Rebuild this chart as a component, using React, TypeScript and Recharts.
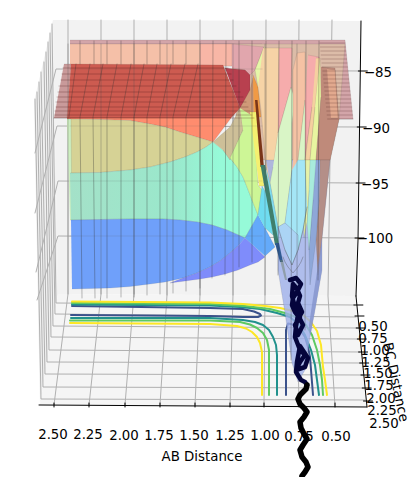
/** App.tsx — LEPS surface seen in 3D, traced in view coordinates */
import React from 'react'
import { ScatterChart, Scatter, XAxis, YAxis } from 'recharts'

type Pt = [number, number]
const W = 419, H = 477

// panes
const paneBack: Pt[] = [[53,20],[361,21],[356,296],[58,294]]
const paneLeft: Pt[] = [[53,20],[58,294],[40,405],[34,102]]
const paneFloor: Pt[] = [[58,294],[356,296],[367,407],[40,405]]

// grid
const gridAB: Pt[][] = [
  [[68,20],[68,294],[54,405]], [[101,20],[101,294],[89,405]], [[134,20],[134,294],[125,405]],
  [[167,20],[167,295],[160,405]], [[200,20],[200,295],[195,405]], [[233,20],[233,295],[230,406]],
  [[266,20],[265,295],[264,406]], [[299,20],[297,296],[299,406]], [[332,20],[328,296],[335,406]],
]
const gridBC: Pt[][] = [
  [[52,24],[56,303],[354,305]], [[50,33],[55,314],[356,317]], [[48,42],[53,326],[358,328]],
  [[46,52],[51,337],[359,339]], [[44,62],[49,350],[360,352]], [[41,72],[47,362],[362,363]],
  [[39,82],[45,374],[363,375]], [[37,92],[43,387],[364,388]], [[35,99],[41,399],[365,400]],
]
const gridZ: Pt[][] = [
  [[35,153],[56,69],[360,71]], [[35,213],[57,126],[359,127]],
  [[36,272],[58,181],[358,183]], [[37,300],[58,236],[357,238]],
]

// floor contours
const yellowBack: Pt[] = [[72,301.5],[210,302.5],[243,304],[265,306],[280,308],[293,311],[303,315],[311,322],[317,331],[321,345],[323,367],[325,380],[327,395]]
const greenBack: Pt[] = [[72,303],[210,304],[245,306],[270,309],[285,313],[298,318],[306,325],[312,335],[317,350],[320,365],[322,380],[323,395]]
const tealBack: Pt[] = [[72,304.5],[210,305.5],[240,307],[260,309],[277,313],[290,317],[299,325],[305,335],[311,350],[315,365],[317,380],[319,395]]
const indigoTongue: Pt[] = [[72,306],[210,308],[243,309],[254,311.5],[260,314],[261,315.5],[258,317],[243,317],[210,316],[71,315]]
const indigoU: Pt[] = [[286,395],[286,330],[288,323.5],[295,325],[300,330],[305,337],[308,347],[310,357],[313,395]]
const tealFront: Pt[] = [[71,318],[210,318],[243,320],[255,322],[263,325],[269,330],[273,337],[276,345],[277,355],[277,395]]
const greenFront: Pt[] = [[70,320.5],[210,320.5],[240,322],[250,324.5],[257,328],[263,333],[267,340],[269,350],[269,395]]
const yellowFront: Pt[] = [[70,323],[210,324],[237,326],[246,328.5],[252,332],[257,337],[260,343],[262,352],[262,395]]

// surface patches, back to front
const surface: [Pt[], string, number?][] = [
  [[[70,40],[345,40],[353,119],[339,119],[330,160],[280,160],[262,44],[70,44]], '#d3a5a9'],
  [[[232,44],[345,44],[339,119],[330,160],[250,160],[232,100]], '#dcbca8'],
  [[[70,44],[232,44],[232,66],[70,66]], '#f5c0a8'],
  [[[200,44],[232,44],[232,66],[200,66]], '#f8b6a6'],
  [[[232,44],[264,47],[255,70],[250,75],[245,70],[232,68]], '#e1a6ad'],
  [[[64,64],[71,64],[67,118],[54,118]], '#c99a9a'],
  [[[71,64],[223,65],[240,108],[231,118],[67,118]], '#cd5b50'],
  [[[225,68],[245,70],[250,75],[250,95],[240,108]], '#b8404f'],
  [[[67,118],[231,118],[213,142],[200,138],[180,132],[165,127],[150,124],[130,120.5],[100,119.5],[67,119]], '#ff8c6e'],
  [[[67,119],[100,119.5],[130,120.5],[150,124],[165,127],[180,132],[200,138],[213,142],[206,147],[197,152],[185,157],[170,162],[150,167],[130,170],[100,172.5],[70,173]], '#d6d295'],
  [[[67,119],[71,119],[72,220],[70,220]], '#cdeec0'],
  [[[70,173],[100,172.5],[130,170],[150,167],[170,162],[185,157],[197,152],[206,147],[213,142],[223,150],[230,158],[237,167],[243,177],[247,187],[252,200],[258,215],[245,238],[236,234],[227,230],[212,225],[197,222],[180,220],[163,219],[130,219],[100,219.5],[71,220]], 'url(#tealBand)'],
  [[[71,220],[100,219.5],[130,219],[163,219],[180,220],[197,222],[212,225],[227,230],[236,234],[245,238],[238,246],[230,253],[220,261],[210,267],[197,273],[183,278],[165,282],[150,284],[130,286.5],[110,288],[72,289]], '#6fa0fa'],
  [[[245,238],[255,247],[265,257],[258,262],[250,265],[238,270],[225,274],[212,277],[200,279],[185,281],[170,283],[183,278],[197,273],[210,267],[220,261],[230,253],[238,246]], '#7f8cfb'],
  [[[245,238],[258,215],[265,228],[275,247],[265,256]], '#64aafa'],
  [[[213,142],[230,127],[240,108],[243,130],[230,160],[223,150]], '#cdbf98'],
  [[[240,108],[253,112],[258,185],[262,190],[258,215],[252,200],[247,187],[243,177],[237,167],[230,158],[243,130]], '#cdf696'],
  [[[240,108],[250,90],[253,78],[258,90],[254,117]], '#cf9a78'],
  [[[253,75],[258,87],[261,117],[254,117]], '#f09a45'],
  [[[250,112],[257,112],[264,186],[259,186]], '#f4f070'],
  [[[258,215],[262,186],[268,196],[273,235],[265,228]], '#6fdcf0'],
  [[[264,47],[255,70],[258,87],[262,93],[265,47]], '#e6f7a8'],
  [[[263,48],[279,48],[278,133],[273,167],[269,187],[266,167],[261,110],[258,87]], '#f6d3a6'],
  [[[279,48],[292,48],[291,87],[278,133]], '#f6acac'],
  // well sheet
  [[[270,183],[278,227],[278,270],[285,313],[292,363],[298,382],[305,370],[310,337],[315,310],[322,270],[322,238],[330,160],[266,160]], '#9eafea', 0.8],
  [[[278,133],[291,87],[295,100],[292,123],[292,170],[285,223],[278,227],[270,183],[273,167]], '#d9f5c6'],
  [[[266,167],[270,183],[278,227],[279,250],[272,210]], '#7fdcf0'],
  [[[293,160],[293,70],[297,53],[305,52],[305,100],[298,160],[296,172],[292,170]], '#f5c2a4'],
  [[[298,160],[305,100],[306,100],[305,160]], '#d9f5c6'],
  [[[308,55],[319,57],[312,107],[307,143],[305,160],[305,100]], '#f6acac'],
  [[[316,58],[320,58],[315,107],[310,160],[305,160],[312,107]], '#f5d0a0'],
  [[[320,58],[321,97],[316,160],[310,160],[315,107]], '#e8f5a0'],
  [[[321,67],[335,68],[339,119],[330,160],[320,160],[316,160],[321,97]], '#bf8a7a'],
  [[[327,69],[335,70],[338,118],[331,118]], '#e2a98e'],
  [[[320,160],[330,160],[322,238],[318,275],[316,240],[319,200]], '#b48f88'],
  [[[316,160],[320,160],[319,200],[316,240],[310,285],[309,250],[313,200]], '#8ea7d8'],
  [[[310,160],[316,160],[313,200],[309,250],[307,222],[309,190]], '#a8ecdc'],
  [[[305,160],[310,160],[309,190],[307,222],[304,238],[303,205]], '#e6f2a8'],
  [[[298,160],[305,160],[307,207],[303,230],[298,250],[298,235],[285,223],[292,170]], '#a4e6f6'],
  [[[278,227],[285,223],[298,235],[298,250],[292,265],[285,250]], '#abd4f5'],
]
// darker bands that carry no outline
const ridge: [Pt[], string, number?][] = [
  [[[322,238],[322,270],[315,310],[310,337],[309,325],[313,298],[318,265]], '#7f8fc8', 0.7],
  [[[255,100],[257.5,100],[264,167],[260.5,167]], '#7a3518'],
  [[[260.5,165],[265,165],[279,245],[275,245]], '#3f7f6c'],
  [[[275,243],[279,243],[283,262],[280,262]], '#2f5a92'],
  [[[280,260],[283,260],[287,280],[285,280]], '#6f7f6a', 0.5],
]

// mesh lines laid over the surface
const meshFront: Pt[][] = [
  [[76,64],[69,117]], [[90,64],[80,117],[82,298]], [[103,64],[93,117],[95,298]], [[117,64],[107,117],[107,298]],
  [[131,64],[121,117],[121,297]], [[144,64],[134,117],[134,297]], [[157,64],[147,117],[147,295]],
  [[171,64],[160,117],[160,294]], [[185,64],[173,117],[173,293]], [[198,64],[186,117],[186,291]],
]
const meshBack: Pt[][] = [
  [[80,41],[80,64]], [[94,41],[94,64]], [[107,41],[107,64]], [[121,41],[121,64]], [[134,41],[134,64]],
  [[147,41],[147,64]], [[160,41],[160,64]], [[173,41],[173,64]], [[186,41],[186,64]],
  [[200,41],[200,288]], [[213,41],[212,278]], [[226,41],[225,275]], [[239,41],[239,267]], [[252,41],[252,262]],
  [[266,41],[266,170]], [[279,41],[278,275]], [[292,41],[291,360]], [[306,41],[305,330]], [[319,41],[318,280]],
]
const plateRowsY = [68,74,80,86,92,97,102,107,111,115,118]
const plateLeftX = [63,62,61,59,58,57,56,56,55,55,54]
const plateRightX = [228,231,233,236,240,243,246,248,250,252,254]
const sideRowsY = [43,47,51,55,59,63,67,71,75,79,83,87,91,95,99,103,107,111,115,119]
const wellLines: Pt[][] = [
  [[283,257],[285,262],[288,267],[293,273],[298,267],[301,262],[303,257]],
  [[278,227],[285,250],[292,265],[298,250],[303,230],[307,207]],
]

// trajectory
const pathNavy: Pt[] = [
  [290,280],[296,278],[301,284],[297,292],[293,298],[292,305],[295,312],[299,317],[302,312],[298,303],[300,296],[297,289],
  [293,284],[292,296],[295,307],[300,317],[295,325],[298,335],[303,325],[298,315],[296,326],[295,337],[300,350],[305,355],
  [300,362],[296,370],[305,367],[308,358],[300,346],[297,362],[296,372],[301,380],[305,382],[307,385],
]
const pathBlack: Pt[] = [[307,385],[306,389],[300,395],[298,399],[300,404],[304,408],[307,412],[304,417],[300,422],[301,428],[304,434],[307,439],[303,445],[300,450],[302,457],[306,462],[308,467],[305,472],[302,476]]

// ticks and labels
const abTicks = ['2.50','2.25','2.00','1.75','1.50','1.25','1.00','0.75','0.50']
const abTickX = [54,89,125,160,195,230,264,299,335]
const abLabelX = [53,88,124,159,194,230,265,299,336]
const abLabelY = [434,434,435,435,435,435,435,436,436]
const bcTicks = ['0.50','0.75','1.00','1.25','1.50','1.75','2.00','2.25','2.50']
const bcTickY = [305,316,328,339,352,363,375,388,401]
const bcLabelX = [373,373,375,376,378,379,381,382,384]
const bcLabelY = [326,338,350,362,373,385,398,410,423]
const zTicks = ['−85','−90','−95','−100']
const zTickY = [71,127,183,238]
const zLabelX = [378,376,375,375]
const zLabelY = [72,128,184,238]
const axisZ: Pt[] = [[361,21],[358,240],[356,296]]
const axisBC: Pt[] = [[356,296],[367,407]]
const axisAB: Pt[] = [[39,405],[367,407]]

const toPts = (p: Pt[]) => p.map(([x, y]) => ({ x, y }))
const noDot = () => <g />

const line = (k: string, p: Pt[], stroke: string, strokeWidth = 1, strokeOpacity = 1) => (
  <Scatter key={k} data={toPts(p)} shape={noDot} isAnimationActive={false}
    line={{ stroke, strokeWidth, strokeOpacity, fill: 'none', strokeLinejoin: 'round', strokeLinecap: 'round' } as any} />
)
const poly = (k: string, p: Pt[], fill: string, fillOpacity = 1, stroke = '#333', strokeOpacity = 0.18) => (
  <Scatter key={k} data={toPts(p)} shape={noDot} isAnimationActive={false}
    line={{ fill, fillOpacity, stroke, strokeOpacity, strokeWidth: 0.6 } as any} />
)
const label = (k: string, x: number, y: number, text: string, rotate = 0) => (
  <Scatter key={k} data={[{ x, y }]} isAnimationActive={false}
    shape={(s: any) => (
      <text x={s.cx} y={s.cy} textAnchor="middle" dominantBaseline="central" fontSize={13.33} fill="#000"
        fontFamily="DejaVu Sans" transform={rotate ? `rotate(${rotate} ${s.cx} ${s.cy})` : undefined}>{text}</text>
    )} />
)

export default function App() {
  return (
    <div style={{ position: 'absolute', left: 0, top: 0, width: W, height: H, background: '#fff' }}>
      <ScatterChart width={W} height={H} margin={{ top: 0, right: 0, bottom: 0, left: 0 }}>
        <defs>
          <linearGradient id="tealBand" x1="0" y1="0" x2="1" y2="0">
            <stop offset="0" stopColor="#a4e1c8" />
            <stop offset="0.55" stopColor="#9ae8cc" />
            <stop offset="0.8" stopColor="#96fad8" />
            <stop offset="1" stopColor="#96fad8" />
          </linearGradient>
        </defs>
        <XAxis type="number" dataKey="x" domain={[0, W]} hide allowDataOverflow />
        <YAxis type="number" dataKey="y" domain={[0, H]} reversed hide allowDataOverflow />

        {poly('pb', paneBack, '#f2f2f2', 1, 'none')}
        {poly('pl', paneLeft, '#f0f0f0', 1, 'none')}
        {poly('pf', paneFloor, '#f5f5f5', 1, 'none')}
        {gridAB.map((g, i) => line(`ga${i}`, g, '#b0b0b0', 1))}
        {gridBC.map((g, i) => line(`gb${i}`, g, '#b0b0b0', 1))}
        {gridZ.map((g, i) => line(`gz${i}`, g, '#b0b0b0', 1))}

        {line('c4', indigoTongue, '#3b528b', 2)}
        {line('c5', indigoU, '#3b528b', 2)}
        {line('c3', tealBack, '#21918c', 2)}
        {line('c2', greenBack, '#5ec962', 2)}
        {line('c1', yellowBack, '#fde725', 2)}
        {line('c6', tealFront, '#21918c', 2)}
        {line('c7', greenFront, '#5ec962', 2)}
        {line('c8', yellowFront, '#fde725', 2)}

        {surface.map(([p, f, o], i) => poly(`s${i}`, p, f, o ?? 1))}
        {ridge.map(([p, f, o], i) => poly(`r${i}`, p, f, o ?? 1, 'none', 0))}

        {gridAB.slice(0, 8).map((g, i) => line(`go${i}`, [[g[1][0], 44], g[1]], '#555', 1, 0.32))}
        {gridZ.map((g, i) => line(`gzo${i}`, [[70, g[1][1]], [262, g[1][1]]], '#555', 1, 0.16))}
        {meshFront.map((g, i) => line(`mf${i}`, g, '#333', 0.8, 0.42))}
        {meshBack.map((g, i) => line(`mb${i}`, g, '#333', 0.8, 0.42))}
        {plateRowsY.map((y, i) => line(`pr${i}`, [[plateLeftX[i], y], [plateRightX[i], y]], '#401010', 0.7, 0.4))}
        {sideRowsY.map((y, i) => line(`sr${i}`, [[320 + (y - 43) * 0.1, y], [345 + (y - 43) * 0.105, y]], '#401010', 0.6, 0.4))}
        {wellLines.map((g, i) => line(`wl${i}`, g, '#444', 0.7, 0.5))}

        {line('pn', pathNavy, '#05053c', 4.5)}
        {line('pk', pathBlack, '#000', 5.5)}

        {line('ax1', axisZ, '#000', 1)}
        {line('ax2', axisBC, '#000', 1)}
        {line('ax3', axisAB, '#000', 1)}
        {zTickY.map((y, i) => line(`zt${i}`, [[355 + (238 - y) * 0.02, y], [364 + (238 - y) * 0.02, y]], '#000', 1))}
        {bcTickY.map((y, i) => line(`bt${i}`, [[353 + (y - 296) * 0.1, y], [362 + (y - 296) * 0.1, y]], '#000', 1))}
        {abTickX.map((x, i) => line(`at${i}`, [[x, 403], [x, 407]], '#000', 1))}

        {abTicks.map((t, i) => label(`al${i}`, abLabelX[i], abLabelY[i], t))}
        {bcTicks.map((t, i) => label(`bl${i}`, bcLabelX[i], bcLabelY[i], t))}
        {zTicks.map((t, i) => label(`zl${i}`, zLabelX[i], zLabelY[i], t))}
        {label('abT', 202, 456, 'AB Distance')}
        {label('bcT', 396, 382, 'BC Distance', 78)}
      </ScatterChart>
    </div>
  )
}
